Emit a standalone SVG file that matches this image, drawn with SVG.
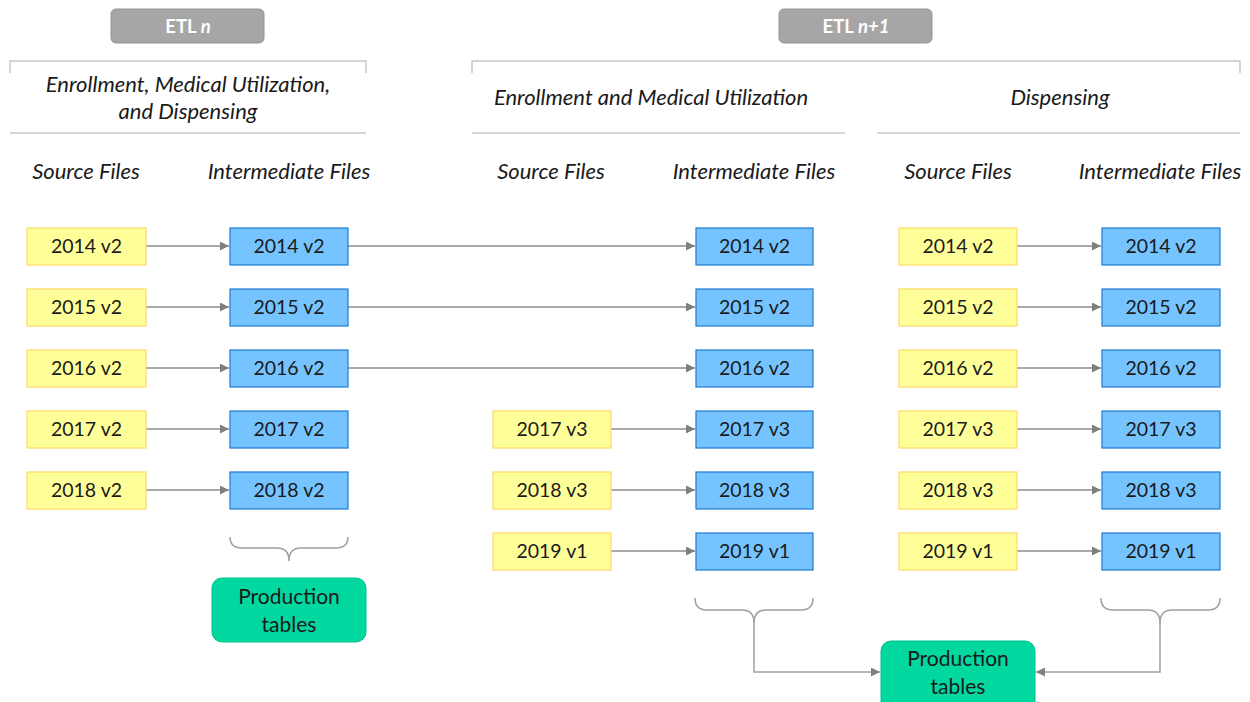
<svg xmlns="http://www.w3.org/2000/svg" width="1250" height="702" viewBox="0 0 1250 702">
  <defs>
    <marker id="arrow" viewBox="0 0 10 10" refX="10" refY="5" markerWidth="9" markerHeight="9" markerUnits="userSpaceOnUse" orient="auto">
      <path d="M0,0 L10,5 L0,10 z" fill="#7f7f7f"/>
    </marker>
    <style>
      text { font-family: Lato, "Open Sans", "Liberation Sans", sans-serif; fill: #1a1a1a; }
      .etl { fill: #a6a6a6; stroke: #959595; stroke-width: 1; }
      .etl-t { fill: #ffffff; font-size: 18.5px; font-weight: bold; }
      .rule { fill: none; stroke: #c8c8c8; stroke-width: 1.5; }
      .head { font-size: 22px; font-style: italic; }
      .src { fill: #ffff99; stroke: #ffd966; stroke-width: 1.2; }
      .mid { fill: #75c4ff; stroke: #1f7ad0; stroke-width: 1.2; }
      .prod { fill: #00d8a0; stroke: #00c090; stroke-width: 1; }
      .lbl { font-size: 19.5px; text-anchor: middle; }
      .plbl { font-size: 21px; text-anchor: middle; }
      .conn { fill: none; stroke: #8c8c8c; stroke-width: 1.5; }
      .brace { fill: none; stroke: #a0a0a0; stroke-width: 1.5; }
    </style>
  </defs>

  <!-- ETL run headers -->
  <g id="etl-n">
    <rect class="etl" x="111" y="9" width="153" height="34" rx="5"/>
    <text class="etl-t" x="188" y="33" text-anchor="middle">ETL <tspan font-style="italic">n</tspan></text>
  </g>
  <g id="etl-n1">
    <rect class="etl" x="779" y="9" width="153" height="34" rx="5"/>
    <text class="etl-t" x="856" y="33" text-anchor="middle">ETL <tspan font-style="italic">n+1</tspan></text>
  </g>

  <!-- section rules -->
  <g id="rules">
    <path class="rule" d="M10,73 L10,61 L366,61 L366,73"/>
    <path class="rule" d="M472,73 L472,61 L1240,61 L1240,73"/>
    <line class="rule" x1="10" y1="133" x2="366" y2="133"/>
    <line class="rule" x1="472" y1="133" x2="845" y2="133"/>
    <line class="rule" x1="877" y1="133" x2="1240" y2="133"/>
  </g>

  <!-- section and column headings -->
  <g id="headings">
    <text class="head" x="188" y="92" text-anchor="middle">Enrollment, Medical Utilization,</text>
    <text class="head" x="188" y="119" text-anchor="middle">and Dispensing</text>
    <text class="head" x="651" y="105" text-anchor="middle">Enrollment and Medical Utilization</text>
    <text class="head" x="1060" y="105" text-anchor="middle">Dispensing</text>
    <text class="head" x="86" y="179" text-anchor="middle">Source Files</text>
    <text class="head" x="289" y="179" text-anchor="middle">Intermediate Files</text>
    <text class="head" x="551" y="179" text-anchor="middle">Source Files</text>
    <text class="head" x="754" y="179" text-anchor="middle">Intermediate Files</text>
    <text class="head" x="958" y="179" text-anchor="middle">Source Files</text>
    <text class="head" x="1160" y="179" text-anchor="middle">Intermediate Files</text>
  </g>

  <!-- connectors -->
  <g id="connectors">
    <!-- ETL n: source to intermediate -->
    <line class="conn" x1="146" y1="246" x2="229" y2="246" marker-end="url(#arrow)"/>
    <line class="conn" x1="146" y1="307" x2="229" y2="307" marker-end="url(#arrow)"/>
    <line class="conn" x1="146" y1="368" x2="229" y2="368" marker-end="url(#arrow)"/>
    <line class="conn" x1="146" y1="429" x2="229" y2="429" marker-end="url(#arrow)"/>
    <line class="conn" x1="146" y1="490" x2="229" y2="490" marker-end="url(#arrow)"/>
    <!-- carried-over intermediate files -->
    <line class="conn" x1="348" y1="246" x2="695" y2="246" marker-end="url(#arrow)"/>
    <line class="conn" x1="348" y1="307" x2="695" y2="307" marker-end="url(#arrow)"/>
    <line class="conn" x1="348" y1="368" x2="695" y2="368" marker-end="url(#arrow)"/>
    <!-- ETL n+1 enrollment / medical -->
    <line class="conn" x1="611" y1="429" x2="695" y2="429" marker-end="url(#arrow)"/>
    <line class="conn" x1="611" y1="490" x2="695" y2="490" marker-end="url(#arrow)"/>
    <line class="conn" x1="611" y1="551" x2="695" y2="551" marker-end="url(#arrow)"/>
    <!-- ETL n+1 dispensing -->
    <line class="conn" x1="1017" y1="246" x2="1101" y2="246" marker-end="url(#arrow)"/>
    <line class="conn" x1="1017" y1="307" x2="1101" y2="307" marker-end="url(#arrow)"/>
    <line class="conn" x1="1017" y1="368" x2="1101" y2="368" marker-end="url(#arrow)"/>
    <line class="conn" x1="1017" y1="429" x2="1101" y2="429" marker-end="url(#arrow)"/>
    <line class="conn" x1="1017" y1="490" x2="1101" y2="490" marker-end="url(#arrow)"/>
    <line class="conn" x1="1017" y1="551" x2="1101" y2="551" marker-end="url(#arrow)"/>
    <!-- braces -->
    <path class="brace" d="M230,537 Q230,548 242,548 L277,548 Q289,548 289,561 Q289,548 301,548 L336,548 Q348,548 348,537"/>
    <path class="brace" d="M695,598 Q695,610 707,610 L742,610 Q754,610 754,623 Q754,610 766,610 L801,610 Q813,610 813,598"/>
    <path class="brace" d="M1101,598 Q1101,610 1113,610 L1148,610 Q1160,610 1160,623 Q1160,610 1172,610 L1208,610 Q1220,610 1220,598"/>
    <!-- braces to production tables -->
    <polyline class="brace" points="754,621 754,672 880,672" marker-end="url(#arrow)"/>
    <polyline class="brace" points="1160,621 1160,672 1036,672" marker-end="url(#arrow)"/>
  </g>

  <!-- ETL n source files -->
  <g id="src-n-2014"><rect class="src" x="27" y="228" width="119" height="37"/><text class="lbl" x="86.5" y="253">2014 v2</text></g>
  <g id="src-n-2015"><rect class="src" x="27" y="289" width="119" height="37"/><text class="lbl" x="86.5" y="314">2015 v2</text></g>
  <g id="src-n-2016"><rect class="src" x="27" y="350" width="119" height="37"/><text class="lbl" x="86.5" y="375">2016 v2</text></g>
  <g id="src-n-2017"><rect class="src" x="27" y="411" width="119" height="37"/><text class="lbl" x="86.5" y="436">2017 v2</text></g>
  <g id="src-n-2018"><rect class="src" x="27" y="472" width="119" height="37"/><text class="lbl" x="86.5" y="497">2018 v2</text></g>

  <!-- ETL n intermediate files -->
  <g id="int-n-2014"><rect class="mid" x="230" y="228" width="118" height="37"/><text class="lbl" x="289" y="253">2014 v2</text></g>
  <g id="int-n-2015"><rect class="mid" x="230" y="289" width="118" height="37"/><text class="lbl" x="289" y="314">2015 v2</text></g>
  <g id="int-n-2016"><rect class="mid" x="230" y="350" width="118" height="37"/><text class="lbl" x="289" y="375">2016 v2</text></g>
  <g id="int-n-2017"><rect class="mid" x="230" y="411" width="118" height="37"/><text class="lbl" x="289" y="436">2017 v2</text></g>
  <g id="int-n-2018"><rect class="mid" x="230" y="472" width="118" height="37"/><text class="lbl" x="289" y="497">2018 v2</text></g>

  <!-- ETL n+1 enrollment / medical source files -->
  <g id="src-em-2017"><rect class="src" x="493" y="411" width="118" height="37"/><text class="lbl" x="552" y="436">2017 v3</text></g>
  <g id="src-em-2018"><rect class="src" x="493" y="472" width="118" height="37"/><text class="lbl" x="552" y="497">2018 v3</text></g>
  <g id="src-em-2019"><rect class="src" x="493" y="533" width="118" height="37"/><text class="lbl" x="552" y="558">2019 v1</text></g>

  <!-- ETL n+1 enrollment / medical intermediate files -->
  <g id="int-em-2014"><rect class="mid" x="696" y="228" width="117" height="37"/><text class="lbl" x="754.5" y="253">2014 v2</text></g>
  <g id="int-em-2015"><rect class="mid" x="696" y="289" width="117" height="37"/><text class="lbl" x="754.5" y="314">2015 v2</text></g>
  <g id="int-em-2016"><rect class="mid" x="696" y="350" width="117" height="37"/><text class="lbl" x="754.5" y="375">2016 v2</text></g>
  <g id="int-em-2017"><rect class="mid" x="696" y="411" width="117" height="37"/><text class="lbl" x="754.5" y="436">2017 v3</text></g>
  <g id="int-em-2018"><rect class="mid" x="696" y="472" width="117" height="37"/><text class="lbl" x="754.5" y="497">2018 v3</text></g>
  <g id="int-em-2019"><rect class="mid" x="696" y="533" width="117" height="37"/><text class="lbl" x="754.5" y="558">2019 v1</text></g>

  <!-- ETL n+1 dispensing source files -->
  <g id="src-d-2014"><rect class="src" x="899" y="228" width="118" height="37"/><text class="lbl" x="958" y="253">2014 v2</text></g>
  <g id="src-d-2015"><rect class="src" x="899" y="289" width="118" height="37"/><text class="lbl" x="958" y="314">2015 v2</text></g>
  <g id="src-d-2016"><rect class="src" x="899" y="350" width="118" height="37"/><text class="lbl" x="958" y="375">2016 v2</text></g>
  <g id="src-d-2017"><rect class="src" x="899" y="411" width="118" height="37"/><text class="lbl" x="958" y="436">2017 v3</text></g>
  <g id="src-d-2018"><rect class="src" x="899" y="472" width="118" height="37"/><text class="lbl" x="958" y="497">2018 v3</text></g>
  <g id="src-d-2019"><rect class="src" x="899" y="533" width="118" height="37"/><text class="lbl" x="958" y="558">2019 v1</text></g>

  <!-- ETL n+1 dispensing intermediate files -->
  <g id="int-d-2014"><rect class="mid" x="1102" y="228" width="118" height="37"/><text class="lbl" x="1161" y="253">2014 v2</text></g>
  <g id="int-d-2015"><rect class="mid" x="1102" y="289" width="118" height="37"/><text class="lbl" x="1161" y="314">2015 v2</text></g>
  <g id="int-d-2016"><rect class="mid" x="1102" y="350" width="118" height="37"/><text class="lbl" x="1161" y="375">2016 v2</text></g>
  <g id="int-d-2017"><rect class="mid" x="1102" y="411" width="118" height="37"/><text class="lbl" x="1161" y="436">2017 v3</text></g>
  <g id="int-d-2018"><rect class="mid" x="1102" y="472" width="118" height="37"/><text class="lbl" x="1161" y="497">2018 v3</text></g>
  <g id="int-d-2019"><rect class="mid" x="1102" y="533" width="118" height="37"/><text class="lbl" x="1161" y="558">2019 v1</text></g>

  <!-- production tables -->
  <g id="prod-n">
    <rect class="prod" x="212" y="578" width="154" height="64" rx="10"/>
    <text class="plbl" x="289" y="604">Production</text>
    <text class="plbl" x="289" y="632">tables</text>
  </g>
  <g id="prod-n1">
    <rect class="prod" x="881" y="641" width="154" height="70" rx="10"/>
    <text class="plbl" x="958" y="666">Production</text>
    <text class="plbl" x="958" y="694">tables</text>
  </g>
</svg>
